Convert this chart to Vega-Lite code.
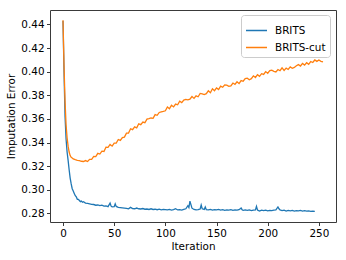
{
  "$schema": "https://vega.github.io/schema/vega-lite/v6.json",
  "autosize": {"type": "none"},
  "width": 286,
  "height": 212,
  "padding": {"left": 50, "top": 10, "right": 10, "bottom": 38},
  "background": "white",
  "config": {
    "font": "DejaVu Sans",
    "view": {"stroke": "#3a3a3a", "strokeWidth": 1},
    "axis": {"grid": false, "domain": false, "tickColor": "#3a3a3a", "tickSize": 3.5, "labelFontSize": 10.4, "titleFontSize": 10.4, "labelColor": "#000", "titleColor": "#000", "titleFontWeight": "normal", "labelPadding": 2.5}
  },
  "data": {"values": [
    {"i":0,"v":0.443,"s":"BRITS"},{"i":1,"v":0.400,"s":"BRITS"},{"i":2,"v":0.362,"s":"BRITS"},{"i":3,"v":0.343,"s":"BRITS"},{"i":4,"v":0.332,"s":"BRITS"},{"i":5,"v":0.325,"s":"BRITS"},{"i":6,"v":0.317,"s":"BRITS"},{"i":7,"v":0.310,"s":"BRITS"},{"i":8,"v":0.305,"s":"BRITS"},{"i":9,"v":0.301,"s":"BRITS"},{"i":10,"v":0.299,"s":"BRITS"},{"i":11,"v":0.297,"s":"BRITS"},{"i":12,"v":0.295,"s":"BRITS"},{"i":13,"v":0.294,"s":"BRITS"},{"i":14,"v":0.292,"s":"BRITS"},{"i":15,"v":0.292,"s":"BRITS"},{"i":16,"v":0.291,"s":"BRITS"},{"i":17,"v":0.290,"s":"BRITS"},{"i":18,"v":0.2905,"s":"BRITS"},{"i":19,"v":0.2895,"s":"BRITS"},{"i":20,"v":0.2900,"s":"BRITS"},{"i":22,"v":0.2888,"s":"BRITS"},{"i":24,"v":0.2885,"s":"BRITS"},{"i":26,"v":0.2882,"s":"BRITS"},{"i":28,"v":0.2878,"s":"BRITS"},{"i":30,"v":0.2876,"s":"BRITS"},{"i":32,"v":0.2870,"s":"BRITS"},{"i":34,"v":0.2872,"s":"BRITS"},{"i":36,"v":0.2866,"s":"BRITS"},{"i":38,"v":0.2870,"s":"BRITS"},{"i":40,"v":0.2862,"s":"BRITS"},{"i":42,"v":0.2864,"s":"BRITS"},{"i":44,"v":0.2858,"s":"BRITS"},{"i":46,"v":0.2888,"s":"BRITS"},{"i":47,"v":0.2862,"s":"BRITS"},{"i":48,"v":0.2856,"s":"BRITS"},{"i":50,"v":0.2858,"s":"BRITS"},{"i":51,"v":0.2882,"s":"BRITS"},{"i":52,"v":0.2860,"s":"BRITS"},{"i":54,"v":0.2852,"s":"BRITS"},{"i":56,"v":0.2850,"s":"BRITS"},{"i":58,"v":0.2848,"s":"BRITS"},{"i":60,"v":0.2846,"s":"BRITS"},{"i":62,"v":0.2844,"s":"BRITS"},{"i":64,"v":0.2840,"s":"BRITS"},{"i":66,"v":0.2852,"s":"BRITS"},{"i":68,"v":0.2842,"s":"BRITS"},{"i":70,"v":0.2840,"s":"BRITS"},{"i":72,"v":0.2846,"s":"BRITS"},{"i":74,"v":0.2840,"s":"BRITS"},{"i":76,"v":0.2838,"s":"BRITS"},{"i":78,"v":0.2842,"s":"BRITS"},{"i":80,"v":0.2836,"s":"BRITS"},{"i":82,"v":0.2838,"s":"BRITS"},{"i":84,"v":0.2834,"s":"BRITS"},{"i":86,"v":0.2840,"s":"BRITS"},{"i":88,"v":0.2834,"s":"BRITS"},{"i":90,"v":0.2836,"s":"BRITS"},{"i":92,"v":0.2832,"s":"BRITS"},{"i":94,"v":0.2836,"s":"BRITS"},{"i":96,"v":0.2830,"s":"BRITS"},{"i":98,"v":0.2834,"s":"BRITS"},{"i":100,"v":0.2832,"s":"BRITS"},{"i":102,"v":0.2830,"s":"BRITS"},{"i":104,"v":0.2834,"s":"BRITS"},{"i":106,"v":0.2828,"s":"BRITS"},{"i":108,"v":0.2832,"s":"BRITS"},{"i":110,"v":0.2840,"s":"BRITS"},{"i":112,"v":0.2830,"s":"BRITS"},{"i":114,"v":0.2832,"s":"BRITS"},{"i":116,"v":0.2828,"s":"BRITS"},{"i":118,"v":0.2834,"s":"BRITS"},{"i":120,"v":0.2840,"s":"BRITS"},{"i":122,"v":0.2866,"s":"BRITS"},{"i":123,"v":0.2850,"s":"BRITS"},{"i":124,"v":0.2905,"s":"BRITS"},{"i":125,"v":0.2875,"s":"BRITS"},{"i":126,"v":0.2845,"s":"BRITS"},{"i":128,"v":0.2834,"s":"BRITS"},{"i":130,"v":0.2830,"s":"BRITS"},{"i":132,"v":0.2832,"s":"BRITS"},{"i":134,"v":0.2838,"s":"BRITS"},{"i":135,"v":0.2872,"s":"BRITS"},{"i":136,"v":0.2840,"s":"BRITS"},{"i":138,"v":0.2835,"s":"BRITS"},{"i":139,"v":0.2855,"s":"BRITS"},{"i":140,"v":0.2832,"s":"BRITS"},{"i":142,"v":0.2830,"s":"BRITS"},{"i":144,"v":0.2834,"s":"BRITS"},{"i":146,"v":0.2828,"s":"BRITS"},{"i":148,"v":0.2832,"s":"BRITS"},{"i":150,"v":0.2830,"s":"BRITS"},{"i":152,"v":0.2834,"s":"BRITS"},{"i":154,"v":0.2828,"s":"BRITS"},{"i":156,"v":0.2832,"s":"BRITS"},{"i":158,"v":0.2826,"s":"BRITS"},{"i":160,"v":0.2830,"s":"BRITS"},{"i":162,"v":0.2828,"s":"BRITS"},{"i":164,"v":0.2832,"s":"BRITS"},{"i":166,"v":0.2826,"s":"BRITS"},{"i":168,"v":0.2830,"s":"BRITS"},{"i":170,"v":0.2828,"s":"BRITS"},{"i":172,"v":0.2832,"s":"BRITS"},{"i":174,"v":0.2846,"s":"BRITS"},{"i":175,"v":0.2832,"s":"BRITS"},{"i":176,"v":0.2826,"s":"BRITS"},{"i":178,"v":0.2830,"s":"BRITS"},{"i":180,"v":0.2826,"s":"BRITS"},{"i":182,"v":0.2830,"s":"BRITS"},{"i":184,"v":0.2824,"s":"BRITS"},{"i":186,"v":0.2828,"s":"BRITS"},{"i":188,"v":0.2830,"s":"BRITS"},{"i":189,"v":0.2860,"s":"BRITS"},{"i":190,"v":0.2830,"s":"BRITS"},{"i":192,"v":0.2820,"s":"BRITS"},{"i":194,"v":0.2828,"s":"BRITS"},{"i":196,"v":0.2824,"s":"BRITS"},{"i":198,"v":0.2828,"s":"BRITS"},{"i":200,"v":0.2822,"s":"BRITS"},{"i":202,"v":0.2826,"s":"BRITS"},{"i":204,"v":0.2824,"s":"BRITS"},{"i":206,"v":0.2828,"s":"BRITS"},{"i":208,"v":0.2830,"s":"BRITS"},{"i":210,"v":0.2855,"s":"BRITS"},{"i":211,"v":0.2840,"s":"BRITS"},{"i":212,"v":0.2830,"s":"BRITS"},{"i":214,"v":0.2824,"s":"BRITS"},{"i":216,"v":0.2828,"s":"BRITS"},{"i":218,"v":0.2820,"s":"BRITS"},{"i":220,"v":0.2826,"s":"BRITS"},{"i":222,"v":0.2822,"s":"BRITS"},{"i":224,"v":0.2826,"s":"BRITS"},{"i":226,"v":0.2820,"s":"BRITS"},{"i":228,"v":0.2824,"s":"BRITS"},{"i":230,"v":0.2822,"s":"BRITS"},{"i":232,"v":0.2826,"s":"BRITS"},{"i":234,"v":0.2820,"s":"BRITS"},{"i":236,"v":0.2824,"s":"BRITS"},{"i":238,"v":0.2820,"s":"BRITS"},{"i":240,"v":0.2822,"s":"BRITS"},{"i":242,"v":0.2818,"s":"BRITS"},{"i":244,"v":0.2820,"s":"BRITS"},{"i":246,"v":0.2818,"s":"BRITS"},
    {"i":0,"v":0.4435,"s":"BRITS-cut"},{"i":1,"v":0.405,"s":"BRITS-cut"},{"i":2,"v":0.375,"s":"BRITS-cut"},{"i":3,"v":0.355,"s":"BRITS-cut"},{"i":4,"v":0.344,"s":"BRITS-cut"},{"i":5,"v":0.337,"s":"BRITS-cut"},{"i":6,"v":0.332,"s":"BRITS-cut"},{"i":7,"v":0.329,"s":"BRITS-cut"},{"i":8,"v":0.3275,"s":"BRITS-cut"},{"i":9,"v":0.327,"s":"BRITS-cut"},{"i":10,"v":0.3262,"s":"BRITS-cut"},{"i":12,"v":0.3255,"s":"BRITS-cut"},{"i":14,"v":0.3250,"s":"BRITS-cut"},{"i":16,"v":0.3248,"s":"BRITS-cut"},{"i":18,"v":0.3242,"s":"BRITS-cut"},
    {"i":20,"v":0.3240,"s":"BRITS-cut"},{"i":22,"v":0.3248,"s":"BRITS-cut"},{"i":24,"v":0.3240,"s":"BRITS-cut"},{"i":26,"v":0.3258,"s":"BRITS-cut"},{"i":28,"v":0.3258,"s":"BRITS-cut"},{"i":30,"v":0.3283,"s":"BRITS-cut"},{"i":32,"v":0.3281,"s":"BRITS-cut"},{"i":34,"v":0.3309,"s":"BRITS-cut"},{"i":36,"v":0.3303,"s":"BRITS-cut"},{"i":38,"v":0.3327,"s":"BRITS-cut"},{"i":40,"v":0.3325,"s":"BRITS-cut"},{"i":42,"v":0.3361,"s":"BRITS-cut"},{"i":44,"v":0.3359,"s":"BRITS-cut"},{"i":46,"v":0.3384,"s":"BRITS-cut"},{"i":48,"v":0.3370,"s":"BRITS-cut"},{"i":50,"v":0.3396,"s":"BRITS-cut"},{"i":52,"v":0.3396,"s":"BRITS-cut"},{"i":54,"v":0.3426,"s":"BRITS-cut"},{"i":56,"v":0.3418,"s":"BRITS-cut"},{"i":58,"v":0.3443,"s":"BRITS-cut"},{"i":60,"v":0.3446,"s":"BRITS-cut"},{"i":62,"v":0.3480,"s":"BRITS-cut"},{"i":64,"v":0.3480,"s":"BRITS-cut"},{"i":66,"v":0.3517,"s":"BRITS-cut"},{"i":68,"v":0.3509,"s":"BRITS-cut"},{"i":70,"v":0.3533,"s":"BRITS-cut"},{"i":72,"v":0.3525,"s":"BRITS-cut"},{"i":74,"v":0.3559,"s":"BRITS-cut"},{"i":76,"v":0.3552,"s":"BRITS-cut"},{"i":78,"v":0.3574,"s":"BRITS-cut"},{"i":80,"v":0.3568,"s":"BRITS-cut"},{"i":82,"v":0.3598,"s":"BRITS-cut"},{"i":84,"v":0.3602,"s":"BRITS-cut"},{"i":86,"v":0.3608,"s":"BRITS-cut"},{"i":88,"v":0.3605,"s":"BRITS-cut"},{"i":90,"v":0.3637,"s":"BRITS-cut"},{"i":92,"v":0.3631,"s":"BRITS-cut"},{"i":94,"v":0.3655,"s":"BRITS-cut"},{"i":96,"v":0.3660,"s":"BRITS-cut"},{"i":98,"v":0.3664,"s":"BRITS-cut"},{"i":100,"v":0.3669,"s":"BRITS-cut"},{"i":102,"v":0.3701,"s":"BRITS-cut"},{"i":104,"v":0.3687,"s":"BRITS-cut"},{"i":106,"v":0.3716,"s":"BRITS-cut"},{"i":108,"v":0.3702,"s":"BRITS-cut"},{"i":110,"v":0.3726,"s":"BRITS-cut"},{"i":112,"v":0.3720,"s":"BRITS-cut"},{"i":114,"v":0.3750,"s":"BRITS-cut"},{"i":116,"v":0.3738,"s":"BRITS-cut"},{"i":118,"v":0.3760,"s":"BRITS-cut"},{"i":120,"v":0.3766,"s":"BRITS-cut"},{"i":122,"v":0.3762,"s":"BRITS-cut"},{"i":124,"v":0.3768,"s":"BRITS-cut"},{"i":126,"v":0.3790,"s":"BRITS-cut"},{"i":128,"v":0.3774,"s":"BRITS-cut"},{"i":130,"v":0.3796,"s":"BRITS-cut"},{"i":132,"v":0.3788,"s":"BRITS-cut"},{"i":134,"v":0.3816,"s":"BRITS-cut"},{"i":136,"v":0.3812,"s":"BRITS-cut"},{"i":138,"v":0.3806,"s":"BRITS-cut"},{"i":140,"v":0.3814,"s":"BRITS-cut"},{"i":142,"v":0.3838,"s":"BRITS-cut"},{"i":144,"v":0.3822,"s":"BRITS-cut"},{"i":146,"v":0.3855,"s":"BRITS-cut"},{"i":148,"v":0.3839,"s":"BRITS-cut"},{"i":150,"v":0.3863,"s":"BRITS-cut"},{"i":152,"v":0.3849,"s":"BRITS-cut"},{"i":154,"v":0.3877,"s":"BRITS-cut"},{"i":156,"v":0.3868,"s":"BRITS-cut"},{"i":158,"v":0.3888,"s":"BRITS-cut"},{"i":160,"v":0.3886,"s":"BRITS-cut"},{"i":162,"v":0.3876,"s":"BRITS-cut"},{"i":164,"v":0.3880,"s":"BRITS-cut"},{"i":166,"v":0.3904,"s":"BRITS-cut"},{"i":168,"v":0.3893,"s":"BRITS-cut"},{"i":170,"v":0.3915,"s":"BRITS-cut"},{"i":172,"v":0.3899,"s":"BRITS-cut"},{"i":174,"v":0.3925,"s":"BRITS-cut"},{"i":176,"v":0.3919,"s":"BRITS-cut"},{"i":178,"v":0.3941,"s":"BRITS-cut"},{"i":180,"v":0.3945,"s":"BRITS-cut"},{"i":182,"v":0.3932,"s":"BRITS-cut"},{"i":184,"v":0.3941,"s":"BRITS-cut"},{"i":186,"v":0.3965,"s":"BRITS-cut"},{"i":188,"v":0.3951,"s":"BRITS-cut"},{"i":190,"v":0.3975,"s":"BRITS-cut"},{"i":192,"v":0.3961,"s":"BRITS-cut"},{"i":194,"v":0.3983,"s":"BRITS-cut"},{"i":196,"v":0.3977,"s":"BRITS-cut"},{"i":198,"v":0.4001,"s":"BRITS-cut"},{"i":200,"v":0.3987,"s":"BRITS-cut"},{"i":202,"v":0.4009,"s":"BRITS-cut"},{"i":204,"v":0.4012,"s":"BRITS-cut"},{"i":206,"v":0.4003,"s":"BRITS-cut"},{"i":208,"v":0.3998,"s":"BRITS-cut"},{"i":210,"v":0.4018,"s":"BRITS-cut"},{"i":212,"v":0.4008,"s":"BRITS-cut"},{"i":214,"v":0.4032,"s":"BRITS-cut"},{"i":216,"v":0.4011,"s":"BRITS-cut"},{"i":218,"v":0.4030,"s":"BRITS-cut"},{"i":220,"v":0.4019,"s":"BRITS-cut"},{"i":222,"v":0.4040,"s":"BRITS-cut"},{"i":224,"v":0.4029,"s":"BRITS-cut"},{"i":226,"v":0.4036,"s":"BRITS-cut"},{"i":228,"v":0.4050,"s":"BRITS-cut"},{"i":230,"v":0.4060,"s":"BRITS-cut"},{"i":232,"v":0.4048,"s":"BRITS-cut"},{"i":234,"v":0.4070,"s":"BRITS-cut"},{"i":236,"v":0.4056,"s":"BRITS-cut"},{"i":238,"v":0.4076,"s":"BRITS-cut"},{"i":240,"v":0.4062,"s":"BRITS-cut"},{"i":242,"v":0.4086,"s":"BRITS-cut"},{"i":244,"v":0.4078,"s":"BRITS-cut"},{"i":246,"v":0.4099,"s":"BRITS-cut"},{"i":248,"v":0.4087,"s":"BRITS-cut"},{"i":250,"v":0.4099,"s":"BRITS-cut"},{"i":252,"v":0.4088,"s":"BRITS-cut"},{"i":254,"v":0.4083,"s":"BRITS-cut"}
  ]},
  "mark": {"type": "line", "strokeWidth": 1.3, "clip": true},
  "encoding": {
    "x": {"field": "i", "type": "quantitative", "title": "Iteration",
      "scale": {"domain": [-12.7, 266.7], "nice": false, "zero": false},
      "axis": {"values": [0, 50, 100, 150, 200, 250], "titlePadding": 3}},
    "y": {"field": "v", "type": "quantitative", "title": "Imputation Error",
      "scale": {"domain": [0.2728, 0.4522], "nice": false, "zero": false},
      "axis": {"values": [0.28, 0.30, 0.32, 0.34, 0.36, 0.38, 0.40, 0.42, 0.44], "format": ".2f", "titlePadding": 4}},
    "color": {"field": "s", "type": "nominal",
      "scale": {"domain": ["BRITS", "BRITS-cut"], "range": ["#1f77b4", "#ff7f0e"]},
      "legend": {"title": null, "orient": "none", "legendX": 191, "legendY": 5,
        "fillColor": "white", "strokeColor": "#cccccc", "cornerRadius": 3, "padding": 4,
        "symbolType": "stroke", "symbolSize": 441, "symbolStrokeWidth": 1.5,
        "labelFontSize": 10.4, "labelColor": "#000", "labelOffset": 7, "rowPadding": 0}}
  }
}
